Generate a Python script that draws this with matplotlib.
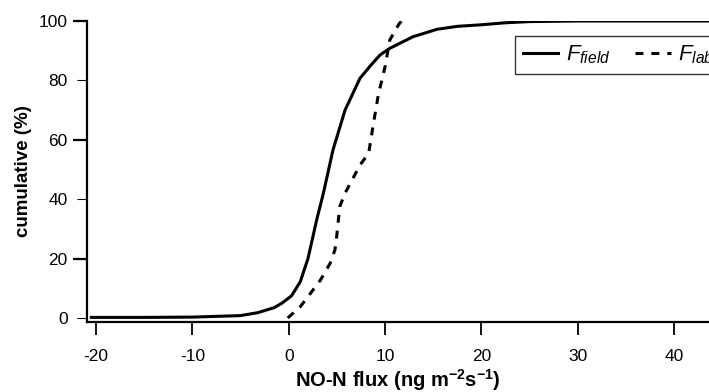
import matplotlib
matplotlib.use("Agg")
import matplotlib.pyplot as plt

plt.rcParams['font.family'] = ['Liberation Sans', 'DejaVu Sans']
plt.rcParams['mathtext.fontset'] = 'custom'
plt.rcParams['mathtext.rm'] = 'Liberation Sans'
plt.rcParams['mathtext.it'] = 'Liberation Sans:italic'
plt.rcParams['mathtext.bf'] = 'Liberation Sans:bold'

# cumulative distributions
field_x = [-20.5, -15, -10, -5, -3.2, -1.5, -0.7, 0.3, 1.2, 2.0, 2.9, 3.6, 4.6,
           5.85, 7.4, 8.5, 9.5, 10.5, 12.9, 15.4, 17.5, 19.9, 22.5, 25, 30, 35, 40, 43.6]
field_y = [0.2, 0.2, 0.3, 0.8, 1.8, 3.5, 5, 7.5, 12.2, 20, 33, 42, 56.6,
           70, 80.7, 85, 88.6, 90.8, 94.7, 97.2, 98.2, 98.7, 99.4, 99.8, 100, 100, 100, 100]

lab_x = [-0.1, 1.2, 2.4, 3.3, 4.3, 4.8, 5.0, 5.3, 5.85, 7.4, 8.3, 8.8, 9.3,
         10.0, 10.5, 11.4, 11.7]
lab_y = [0, 3.8, 8.9, 12.8, 18.4, 22.9, 28, 37.5, 42, 51.5, 55.4, 65.5, 75,
         84.6, 93.6, 98.7, 100]

xticks = [-20, -10, 0, 10, 20, 30, 40]
yticks = [0, 20, 40, 60, 80, 100]

fig = plt.figure(figsize=(7.09, 3.92), dpi=100)
ax = fig.add_axes([87 / 709, 1 - 322 / 392, 1 - 87 / 709, (322 - 21) / 392])

ax.plot(field_x, field_y, color='black', lw=2.2, label=r'$F_{field}$')
ax.plot(lab_x, lab_y, color='black', lw=2.2, linestyle=(0, (2.6, 2.6)),
        label=r'$F_{lab}$')

ax.set_xlim(-20.95, 43.65)
ax.set_ylim(-1.35, 100)
ax.set_xticks(xticks)
ax.set_yticks(yticks)
ax.set_xticklabels([str(t) for t in xticks])
ax.set_yticklabels([str(t) for t in yticks])

for s in ['top', 'right']:
    ax.spines[s].set_visible(False)
for s in ['left', 'bottom']:
    ax.spines[s].set_linewidth(1.6)

ax.tick_params(axis='x', direction='out', length=9.5, width=1.3, pad=10, labelsize=12.5)
ax.tick_params(axis='y', direction='out', length=10, width=1.6, pad=4, labelsize=12.5)
# the 0, 40, 80 ticks are drawn thinner and shorter
for t, v in zip(ax.yaxis.get_major_ticks(), yticks):
    if v in (0, 40, 80):
        t.tick1line.set_markersize(7)
        t.tick1line.set_markeredgewidth(0.8)

ax.set_xlabel(r'NO-N flux (ng m$^{\mathbf{-2}}$s$^{\mathbf{-1}}$)', fontsize=14.5,
              fontweight='bold', labelpad=2)
ax.set_ylabel('cumulative (%)', fontsize=13.5, fontweight='bold', labelpad=5)

leg = fig.legend(loc='upper left', bbox_to_anchor=(515 / 709, 1 - 36 / 392),
                 ncol=2, fontsize=16, frameon=True, fancybox=False,
                 edgecolor='black', handlelength=1.6, handletextpad=0.35,
                 columnspacing=1.1, borderpad=0.35, borderaxespad=0)
leg.get_frame().set_linewidth(1.0)

fig.savefig('out.png', dpi=100)
